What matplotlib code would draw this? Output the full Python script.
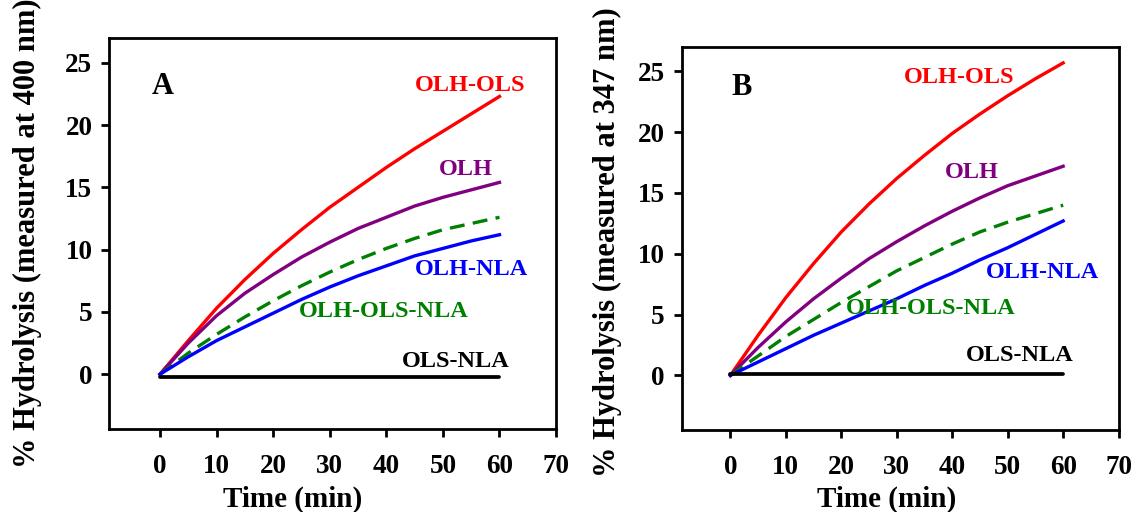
import matplotlib.pyplot as plt

# Data (time in min, % hydrolysis)
time = [0, 5, 10, 15, 20, 25, 30, 35, 40, 45, 50, 55, 60]

# Panel A (measured at 400 nm)
a_olh_ols = [0, 2.7, 5.3, 7.6, 9.7, 11.6, 13.4, 15.0, 16.6, 18.1, 19.5, 20.9, 22.3]
a_olh = [0, 2.5, 4.7, 6.5, 8.0, 9.4, 10.6, 11.7, 12.6, 13.5, 14.2, 14.8, 15.4]
a_olh_ols_nla = [0, 1.7, 3.2, 4.6, 5.9, 7.1, 8.2, 9.2, 10.1, 10.9, 11.6, 12.1, 12.6]
a_olh_nla = [0, 1.4, 2.7, 3.8, 4.9, 6.0, 7.0, 7.9, 8.7, 9.5, 10.1, 10.7, 11.2]
a_ols_nla = [-0.2] * 13

# Panel B (measured at 347 nm)
b_olh_ols = [0, 3.3, 6.4, 9.2, 11.8, 14.1, 16.2, 18.1, 19.9, 21.5, 23.0, 24.4, 25.7]
b_olh = [0, 2.3, 4.4, 6.3, 8.0, 9.6, 11.0, 12.3, 13.5, 14.6, 15.6, 16.4, 17.2]
b_olh_ols_nla = [0, 1.6, 3.2, 4.6, 6.0, 7.3, 8.6, 9.7, 10.8, 11.8, 12.6, 13.3, 14.0]
b_olh_nla = [0, 1.1, 2.2, 3.3, 4.3, 5.3, 6.3, 7.4, 8.4, 9.5, 10.5, 11.6, 12.7]
b_ols_nla = [0.1] * 13

x_ticks = [0, 10, 20, 30, 40, 50, 60, 70]
y_ticks = [0, 5, 10, 15, 20, 25]

plt.rcParams['font.family'] = ['Liberation Serif', 'DejaVu Serif']
plt.rcParams['font.weight'] = 'bold'

fig = plt.figure(figsize=(11.36, 5.12), dpi=100)
axA = fig.add_axes([0.096, 0.162, 0.3935, 0.764])
axB = fig.add_axes([0.600, 0.160, 0.3847, 0.748])

lw = 2.4


def draw_panel(ax, series, labels, letter, letter_pos, ylabel, xlim, ylim, xlab_x, ylab_x, ylab_y):
    (ols, olh, mix, nla, blank) = series
    ax.plot(time, ols, color='#ff0000', lw=lw)
    ax.plot(time, olh, color='#800080', lw=lw)
    ax.plot(time, mix, color='#008000', lw=lw, ls=(0, (4.5, 2.5)))
    ax.plot(time, nla, color='#0000ff', lw=lw)
    ax.plot(time, blank, color='black', lw=lw + 0.3, solid_capstyle='round')

    colors = ['#ff0000', '#800080', '#008000', '#0000ff', 'black']
    names = ['OLH-OLS', 'OLH', 'OLH-OLS-NLA', 'OLH-NLA', 'OLS-NLA']
    for name, c, (tx, ty) in zip(names, colors, labels):
        ax.text(tx, ty, name, color=c, fontsize=17.5, fontweight='bold',
                ha='center', va='center')
    ax.text(letter_pos[0], letter_pos[1], letter, fontsize=22, fontweight='bold',
            ha='left', va='center')

    ax.set_xlim(*xlim)
    ax.set_ylim(*ylim)
    ax.set_xticks(x_ticks)
    ax.set_yticks(y_ticks)
    ax.tick_params(axis='both', direction='out', length=6, width=2,
                   labelsize=19.5, top=False, right=False)
    ax.tick_params(axis='x', pad=12)
    ax.tick_params(axis='y', pad=6)
    for lab in ax.get_xticklabels() + ax.get_yticklabels():
        lab.set_fontweight('bold')
    for sp in ax.spines.values():
        sp.set_linewidth(2)

    ax.set_xlabel('Time (min)', fontsize=21, fontweight='bold')
    ax.set_ylabel(ylabel, fontsize=22, fontweight='bold')
    ax.xaxis.set_label_coords(xlab_x, -0.145)
    ax.yaxis.set_label_coords(ylab_x, ylab_y)


draw_panel(axA,
           (a_olh_ols, a_olh, a_olh_ols_nla, a_olh_nla, a_ols_nla),
           [(54.8, 23.2), (54.1, 16.4), (39.5, 5.0), (55.0, 8.4), (52.2, 1.0)],
           'A', (-1.4, 23.1), '% Hydrolysis (measured at 400 nm)',
           (-9.0, 70), (-4.4, 27.0), 0.41, -0.15, 0.50)

draw_panel(axB,
           (b_olh_ols, b_olh, b_olh_ols_nla, b_olh_nla, b_ols_nla),
           [(41.2, 24.5), (43.5, 16.7), (36.2, 5.5), (56.2, 8.5), (52.2, 1.6)],
           'B', (0.2, 23.7), '% Hydrolysis (measured at 347 nm)',
           (-8.8, 70), (-4.5, 27.0), 0.47, -0.137, 0.49)

fig.savefig('out.png', dpi=100)
